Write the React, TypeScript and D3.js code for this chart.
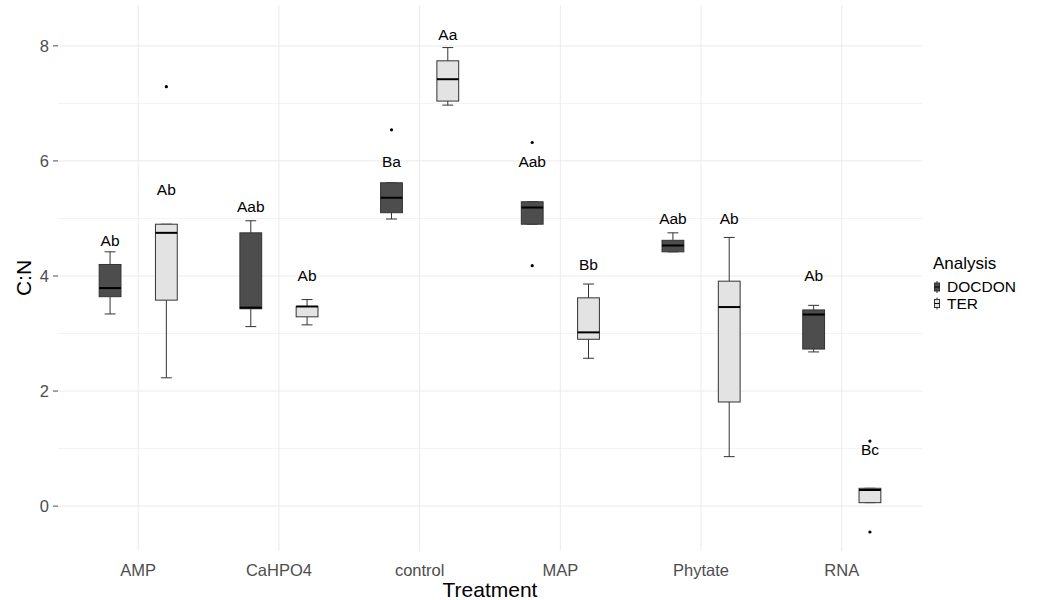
import React from 'react';
import * as d3 from 'd3';

const categories = ['AMP', 'CaHPO4', 'control', 'MAP', 'Phytate', 'RNA'];
const groups = ['DOCDON', 'TER'];
const yTicks = [0, 2, 4, 6, 8];
const yMinorTicks = [1, 3, 5, 7];

// DOCDON box stats per treatment
const docdonLow = [3.34, 3.12, 4.99, 4.9, 4.42, 2.68];
const docdonQ1 = [3.64, 3.43, 5.1, 4.9, 4.42, 2.73];
const docdonMedian = [3.79, 3.45, 5.36, 5.19, 4.53, 3.33];
const docdonQ3 = [4.2, 4.75, 5.62, 5.29, 4.62, 3.41];
const docdonHigh = [4.42, 4.96, 5.62, 5.29, 4.75, 3.49];
const docdonOutliers = [[], [], [6.54], [6.32, 4.18], [], []];
const docdonLabels = ['Ab', 'Aab', 'Ba', 'Aab', 'Aab', 'Ab'];
const docdonLabelY = [4.61, 5.2, 5.99, 5.99, 4.99, 4.0];

// TER box stats per treatment
const terLow = [2.23, 3.15, 6.97, 2.57, 0.86, 0.06];
const terQ1 = [3.58, 3.29, 7.04, 2.9, 1.81, 0.06];
const terMedian = [4.75, 3.47, 7.42, 3.02, 3.46, 0.28];
const terQ3 = [4.9, 3.47, 7.74, 3.62, 3.91, 0.31];
const terHigh = [4.9, 3.59, 7.97, 3.86, 4.67, 0.31];
const terOutliers = [[7.29], [], [], [], [], [1.13, -0.45]];
const terLabels = ['Ab', 'Ab', 'Aa', 'Bb', 'Ab', 'Bc'];
const terLabelY = [5.5, 4.0, 8.19, 4.19, 4.99, 0.99];

const fills: Record<string, string> = { DOCDON: '#4d4d4d', TER: '#e3e3e3' };
const font = '"Liberation Sans", Arial, sans-serif';

export default function App() {
  const W = 1044, H = 600;
  const panel = { left: 58, right: 922, top: 5, bottom: 551 };

  const x = d3.scalePoint<string>()
    .domain(categories)
    .range([panel.left, panel.right])
    .padding(0.57);
  const y = d3.scaleLinear().domain([-0.78, 8.71]).range([panel.bottom, panel.top]);

  const step = x.step();
  const boxW = step * 0.155;
  const dodge = step * 0.2;

  const series = [
    { g: 'DOCDON', low: docdonLow, q1: docdonQ1, med: docdonMedian, q3: docdonQ3, high: docdonHigh, out: docdonOutliers, lab: docdonLabels, labY: docdonLabelY, off: -dodge },
    { g: 'TER', low: terLow, q1: terQ1, med: terMedian, q3: terQ3, high: terHigh, out: terOutliers, lab: terLabels, labY: terLabelY, off: dodge },
  ];

  return (
    <svg width={W} height={H} style={{ position: 'absolute', left: 0, top: 0, background: '#fff' }} fontFamily={font}>
      {/* grid */}
      {yMinorTicks.map(t => (
        <line key={'mn' + t} x1={panel.left} x2={panel.right} y1={y(t)} y2={y(t)} stroke="#f3f3f3" strokeWidth={1} />
      ))}
      {yTicks.map(t => (
        <line key={'mj' + t} x1={panel.left} x2={panel.right} y1={y(t)} y2={y(t)} stroke="#ebebeb" strokeWidth={1} />
      ))}
      {categories.map(c => (
        <line key={'vx' + c} x1={x(c)} x2={x(c)} y1={panel.top} y2={panel.bottom} stroke="#ebebeb" strokeWidth={1} />
      ))}

      {/* y axis */}
      {yTicks.map(t => (
        <g key={'yt' + t}>
          <line x1={panel.left - 5} x2={panel.left} y1={y(t)} y2={y(t)} stroke="#4d4d4d" strokeWidth={1} />
          <text x={panel.left - 9} y={y(t)} dy="0.35em" textAnchor="end" fontSize={16.5} fill="#4d4d4d">{t}</text>
        </g>
      ))}
      <text transform={`translate(31,${(panel.top + panel.bottom) / 2}) rotate(-90)`} textAnchor="middle" fontSize={21} fill="#000">C:N</text>

      {/* x axis */}
      {categories.map(c => (
        <text key={'xt' + c} x={x(c)} y={576} textAnchor="middle" fontSize={16.5} fill="#4d4d4d">{c}</text>
      ))}
      <text x={(panel.left + panel.right) / 2} y={597} textAnchor="middle" fontSize={21} fill="#000">Treatment</text>

      {/* boxes */}
      {series.map(s => categories.map((c, i) => {
        const cx = (x(c) as number) + s.off;
        return (
          <g key={s.g + c}>
            <line x1={cx} x2={cx} y1={y(s.high[i])} y2={y(s.q3[i])} stroke="#333" strokeWidth={1} />
            <line x1={cx} x2={cx} y1={y(s.q1[i])} y2={y(s.low[i])} stroke="#333" strokeWidth={1} />
            <line x1={cx - boxW / 4} x2={cx + boxW / 4} y1={y(s.high[i])} y2={y(s.high[i])} stroke="#333" strokeWidth={1} />
            <line x1={cx - boxW / 4} x2={cx + boxW / 4} y1={y(s.low[i])} y2={y(s.low[i])} stroke="#333" strokeWidth={1} />
            <rect x={cx - boxW / 2} y={y(s.q3[i])} width={boxW} height={Math.max(0.5, y(s.q1[i]) - y(s.q3[i]))}
              fill={fills[s.g]} stroke="#333" strokeWidth={1} />
            <line x1={cx - boxW / 2} x2={cx + boxW / 2} y1={y(s.med[i])} y2={y(s.med[i])} stroke="#000" strokeWidth={2} />
            {s.out[i].map((o, k) => (
              <circle key={k} cx={cx} cy={y(o)} r={1.6} fill="#000" />
            ))}
            <text x={cx} y={y(s.labY[i])} dy="0.35em" textAnchor="middle" fontSize={15.5} fill="#000">{s.lab[i]}</text>
          </g>
        );
      }))}

      {/* legend */}
      <text x={933} y={269} fontSize={17} fill="#000">Analysis</text>
      {groups.map((g, i) => {
        const cy = 287 + i * 16.5;
        return (
          <g key={'lg' + g}>
            <line x1={937} x2={937} y1={cy - 6} y2={cy + 6} stroke="#333" strokeWidth={1} />
            <rect x={934.5} y={cy - 4} width={5} height={8} fill={fills[g]} stroke="#333" strokeWidth={1} />
            <line x1={934.5} x2={939.5} y1={cy} y2={cy} stroke="#000" strokeWidth={1} />
            <text x={947} y={cy} dy="0.35em" fontSize={15.5} fill="#000">{g}</text>
          </g>
        );
      })}
    </svg>
  );
}
